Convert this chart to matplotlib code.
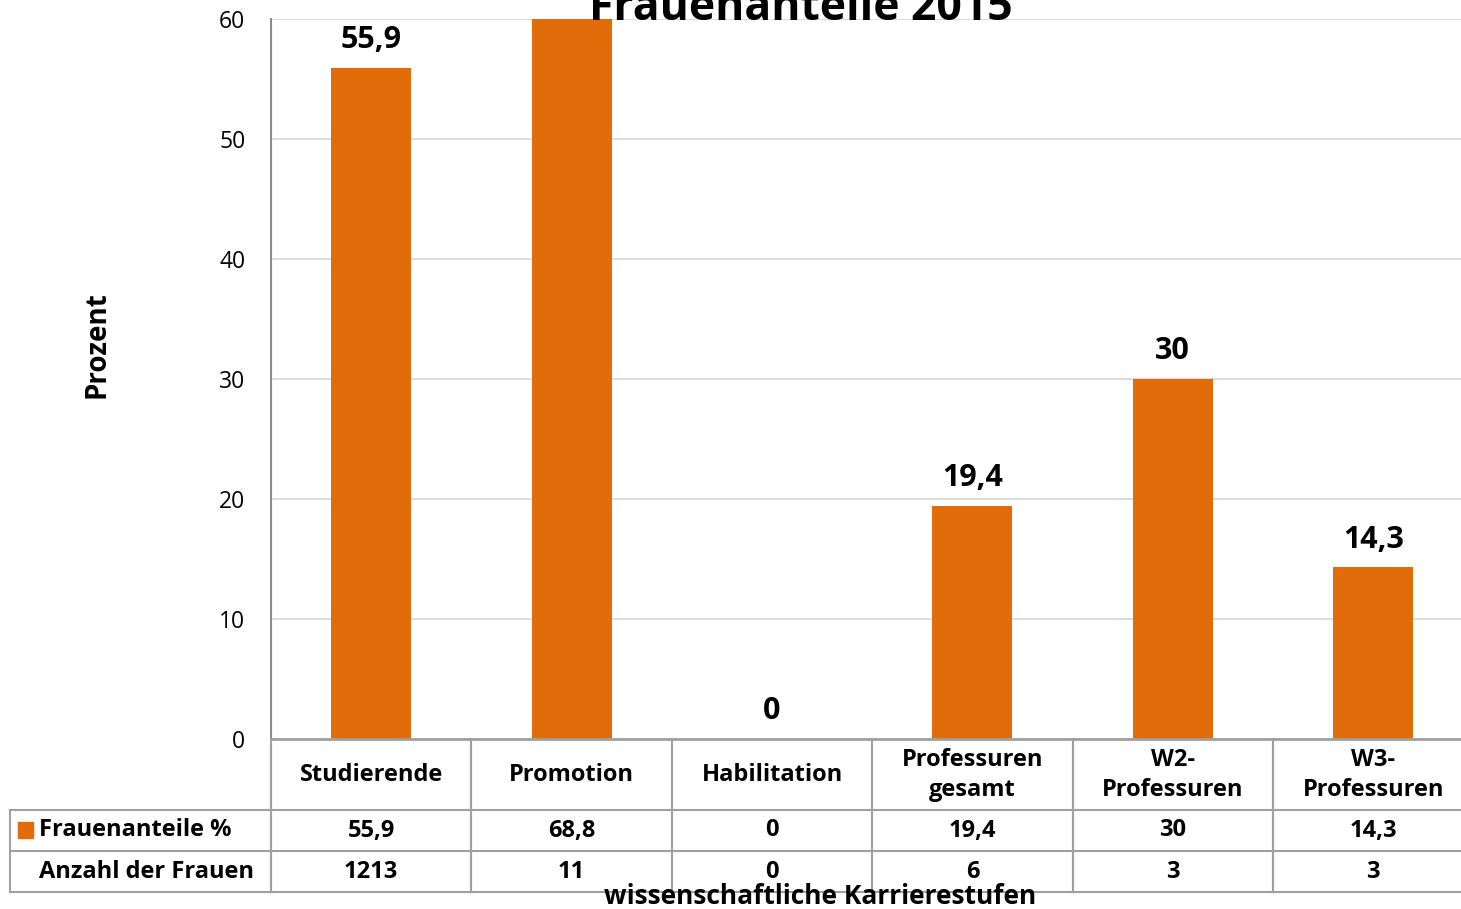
import matplotlib
matplotlib.use('Agg')
import matplotlib.pyplot as plt
from matplotlib.lines import Line2D
from matplotlib.patches import Rectangle
from matplotlib.transforms import blended_transform_factory

# ── DATA ──────────────────────────────────────────────────────────────
categories = ["Studierende", "Promotion", "Habilitation",
              "Professuren\ngesamt", "W2-\nProfessuren", "W3-\nProfessuren"]
frauenanteile = [55.9, 68.8, 0, 19.4, 30, 14.3]
anzahl_frauen = [1213, 11, 0, 6, 3, 3]
y_ticks = [0, 10, 20, 30, 40, 50, 60]

ORANGE = '#E36C0A'
GRID = '#D9D9D9'
LINE = '#A0A0A0'
FONT = 'Open Sans'

W, H = 1461, 909


def fx(px):
    return px / W


def fy(py):
    return 1 - py / H


def fmt(v):
    s = f"{v:g}"
    return s.replace('.', ',')


plt.rcParams['font.family'] = [FONT, 'DejaVu Sans']

fig = plt.figure(figsize=(W / 100, H / 100), dpi=100)
fig.patch.set_facecolor('white')

ax_left, ax_right = 271, 1473.4
ax = fig.add_axes([fx(ax_left), fy(739), fx(ax_right - ax_left), (739 - 19) / H])

x = list(range(len(categories)))
ax.bar(x, frauenanteile, width=0.4, color=ORANGE, zorder=3)
ax.set_xlim(-0.5, len(categories) - 0.5)
ax.set_ylim(0, 60)
ax.set_yticks(y_ticks)
ax.set_yticklabels([str(t) for t in y_ticks], fontsize=16.5)
ax.tick_params(axis='y', length=0, pad=18.5)
ax.set_xticks([])
ax.grid(axis='y', color=GRID, linewidth=1.3, zorder=0)
for s in ['top', 'right', 'bottom']:
    ax.spines[s].set_visible(False)
ax.spines['left'].set_color('#8C8C8C')
ax.spines['left'].set_linewidth(1.5)

# data labels (values above the axis limit are not shown)
for xi, v in zip(x, frauenanteile):
    if v > 60:
        continue
    ax.annotate(fmt(v), (xi, v), xytext=(0, 20), textcoords='offset points',
                ha='center', va='center', fontsize=22, fontweight='bold')

fig.text(fx(801), fy(8), "Frauenanteile 2015", ha='center', va='center',
         fontsize=32, fontweight='bold')
fig.text(fx(97), fy(345), "Prozent", rotation=90, ha='center', va='center',
         fontsize=20, fontweight='bold')

# ── DATA TABLE ────────────────────────────────────────────────────────
bt = blended_transform_factory(ax.transData, fig.transFigure)
rows = [739, 810, 851, 892]
bounds = [xi - 0.5 for xi in x] + [len(x) - 0.5]


def hline(py, x0_px, lw=1.5):
    fig.add_artist(Line2D([fx(x0_px), 1], [fy(py), fy(py)], color=LINE,
                          linewidth=lw, transform=fig.transFigure))


hline(rows[0], ax_left, lw=2)
for r in rows[1:]:
    hline(r, 10)

for b in bounds:
    fig.add_artist(Line2D([b, b], [fy(rows[0]), fy(rows[-1])], color=LINE,
                          linewidth=1.5, transform=bt, clip_on=False))
fig.add_artist(Line2D([fx(10), fx(10)], [fy(rows[1]), fy(rows[-1])],
                      color=LINE, linewidth=1.5, transform=fig.transFigure))

TS = 17
for xi, cat, v, n in zip(x, categories, frauenanteile, anzahl_frauen):
    fig.text(xi, fy((rows[0] + rows[1]) / 2 + 0.5), cat, transform=bt,
             ha='center', va='center', fontsize=TS, fontweight='bold',
             linespacing=1.32)
    fig.text(xi, fy((rows[1] + rows[2]) / 2), fmt(v), transform=bt,
             ha='center', va='center', fontsize=TS, fontweight='bold')
    fig.text(xi, fy((rows[2] + rows[3]) / 2), str(n), transform=bt,
             ha='center', va='center', fontsize=TS, fontweight='bold')

fig.add_artist(Rectangle((fx(18), fy(838)), fx(15), 16 / H, color=ORANGE,
                         transform=fig.transFigure))
fig.text(fx(39), fy((rows[1] + rows[2]) / 2), "Frauenanteile %",
         ha='left', va='center', fontsize=TS, fontweight='bold')
fig.text(fx(39), fy((rows[2] + rows[3]) / 2), "Anzahl der Frauen",
         ha='left', va='center', fontsize=TS, fontweight='bold')

fig.text(fx(820), fy(896), "wissenschaftliche Karrierestufen", ha='center',
         va='center', fontsize=19, fontweight='bold')

fig.savefig('out.png', dpi=100, facecolor='white')
